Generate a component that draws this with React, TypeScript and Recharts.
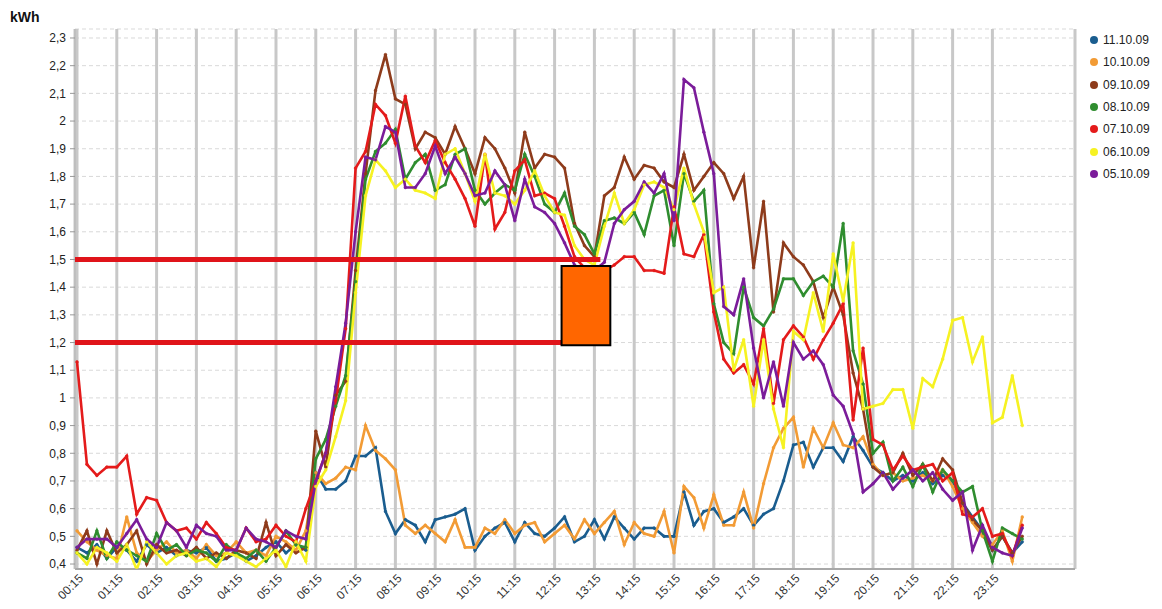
import {
  LineChart,
  Line,
  XAxis,
  YAxis,
  CartesianGrid,
  ReferenceLine,
  ReferenceArea,
} from "recharts";

// quarter-hour slots 00:15 .. 00:00 (next day)
const TIMES: string[] = Array.from({ length: 96 }, (_, k) => {
  const m = (k + 1) * 15;
  const h = Math.floor(m / 60) % 24;
  return `${String(h).padStart(2, "0")}:${String(m % 60).padStart(2, "0")}`;
});
const X_TICKS = TIMES.map((_, k) => k).filter((k) => k % 4 === 0);
const Y_TICKS = [0.4, 0.5, 0.6, 0.7, 0.8, 0.9, 1, 1.1, 1.2, 1.3, 1.4, 1.5, 1.6, 1.7, 1.8, 1.9, 2, 2.1, 2.2, 2.3];

// kWh per quarter hour
const D_11_10 = [
  0.46, 0.44, 0.47, 0.42, 0.46, 0.45, 0.41, 0.47, 0.44, 0.46, 0.43, 0.45, 0.44, 0.46, 0.41, 0.42, 0.44, 0.41, 0.43, 0.46, 0.48, 0.44, 0.47, 0.45,
  0.73, 0.67, 0.67, 0.7, 0.79, 0.79, 0.82, 0.59, 0.51, 0.56, 0.54, 0.48, 0.56, 0.57, 0.58, 0.6, 0.45, 0.5, 0.53, 0.55, 0.48, 0.55,
  0.51, 0.5, 0.53, 0.57, 0.48, 0.5, 0.56, 0.49, 0.57, 0.53, 0.49, 0.53, 0.53, 0.5, 0.5, 0.66, 0.54, 0.59, 0.6, 0.55,
  0.57, 0.6, 0.54, 0.58, 0.6, 0.7, 0.83, 0.84, 0.75, 0.82, 0.82, 0.77, 0.86, 0.81,
  0.75, 0.73, 0.7, 0.72, 0.7, 0.73, 0.69, 0.72, 0.7, 0.62, 0.57, 0.52, 0.45, 0.5, 0.44, 0.48,
];
const D_10_10 = [
  0.52, 0.48, 0.45, 0.43, 0.42, 0.57, 0.44, 0.41, 0.45, 0.48, 0.44, 0.45, 0.42, 0.47, 0.43, 0.44, 0.48, 0.44, 0.45, 0.43, 0.5, 0.48, 0.45, 0.52,
  0.73, 0.69, 0.71, 0.75, 0.74, 0.9, 0.81, 0.78, 0.74, 0.54, 0.51, 0.54, 0.51, 0.48, 0.56, 0.46, 0.46, 0.53, 0.51, 0.56, 0.51, 0.54,
  0.55, 0.48, 0.51, 0.54, 0.49, 0.56, 0.51, 0.55, 0.59, 0.47, 0.55, 0.51, 0.5, 0.59, 0.44, 0.68, 0.64, 0.53, 0.65, 0.54,
  0.54, 0.66, 0.53, 0.69, 0.82, 0.89, 0.93, 0.75, 0.89, 0.82, 0.91, 0.83, 0.82, 0.86,
  0.76, 0.72, 0.73, 0.7, 0.71, 0.72, 0.7, 0.74, 0.68, 0.6, 0.55, 0.5, 0.47, 0.52, 0.41, 0.57,
];
const D_09_10 = [
  0.45, 0.52, 0.4, 0.52, 0.44, 0.47, 0.52, 0.4, 0.47, 0.44, 0.45, 0.43, 0.46, 0.42, 0.44, 0.42, 0.45, 0.44, 0.42, 0.55, 0.43, 0.47, 0.44, 0.46,
  0.88, 0.75, 1.01, 1.06, 1.46, 1.81, 2.11, 2.24, 2.08, 2.06,
  1.9, 1.96, 1.94, 1.88, 1.98, 1.9, 1.81, 1.94, 1.9, 1.83, 1.74, 1.96, 1.83, 1.88, 1.87, 1.83, 1.63, 1.55, 1.51,
  1.73, 1.76, 1.87, 1.79, 1.84, 1.83, 1.78, 1.76, 1.88, 1.75, 1.8, 1.85, 1.81, 1.72, 1.8, 1.47, 1.71,
  1.31, 1.56, 1.51, 1.48, 1.42, 1.29, 1.4, 1.3, 1.09, 0.96, 0.75, 0.72,
  0.73, 0.8, 0.72, 0.76, 0.7, 0.78, 0.74, 0.62, 0.56, 0.52, 0.45, 0.5, 0.44, 0.5,
];
const D_08_10 = [
  0.44, 0.42, 0.52, 0.42, 0.48, 0.45, 0.43, 0.41, 0.51, 0.45, 0.47, 0.43, 0.45, 0.44, 0.41, 0.47, 0.44, 0.42, 0.45, 0.41, 0.46, 0.52, 0.47, 0.46,
  0.78, 0.85, 0.97, 1.08, 1.42, 1.79, 1.89, 1.92, 1.97, 1.79,
  1.85, 1.88, 1.75, 1.77, 1.88, 1.9, 1.75, 1.7, 1.74, 1.77, 1.75, 1.88, 1.8, 1.7, 1.67, 1.74, 1.62, 1.59,
  1.52,
  1.64, 1.65, 1.63, 1.67, 1.59, 1.73, 1.75, 1.55, 1.81, 1.71, 1.75, 1.34, 1.2, 1.16, 1.4, 1.29, 1.26,
  1.32, 1.43, 1.43, 1.37, 1.42, 1.44, 1.4, 1.63, 1.17, 1.05, 0.8, 0.84, 0.7, 0.75, 0.68,
  0.76, 0.66, 0.74, 0.7, 0.66, 0.68, 0.52, 0.41, 0.53, 0.51, 0.49,
];
const D_07_10 = [
  1.13, 0.76, 0.72, 0.75, 0.75, 0.79, 0.58, 0.64, 0.63, 0.55, 0.52, 0.53, 0.49, 0.55, 0.51, 0.46, 0.45, 0.53, 0.48, 0.49, 0.54, 0.5, 0.48, 0.6,
  0.7, 0.8, 0.99, 1.25, 1.83, 1.89, 2.06, 2.02, 1.92, 2.09,
  1.91, 1.85, 1.93, 1.85, 1.79, 1.72, 1.62, 1.88, 1.61, 1.67, 1.82, 1.86, 1.73, 1.74, 1.72, 1.62,
  1.51, 1.47, 1.45, 1.46, 1.48, 1.51, 1.51, 1.46, 1.46, 1.45, 1.69, 1.52, 1.51, 1.59, 1.31, 1.14,
  1.09, 1.12, 1.05, 1.25, 0.98, 1.21, 1.26, 1.22, 1.14, 1.21, 1.27, 1.34, 0.92, 1.18, 0.85, 0.83, 0.74, 0.79, 0.74,
  0.75, 0.76, 0.7, 0.73, 0.58, 0.57, 0.6, 0.5, 0.51, 0.43, 0.54,
];
const D_06_10 = [
  0.44, 0.4, 0.46, 0.44, 0.41, 0.47, 0.38, 0.48, 0.44, 0.4, 0.43, 0.44, 0.41, 0.42, 0.39, 0.44, 0.43, 0.41, 0.39, 0.42, 0.45, 0.39, 0.48, 0.41,
  0.68, 0.74, 0.86, 0.99, 1.38, 1.73, 1.86, 1.82, 1.76, 1.79,
  1.75, 1.74, 1.72, 1.88, 1.9, 1.81, 1.71, 1.88, 1.74, 1.73, 1.7, 1.75, 1.82, 1.73, 1.67, 1.66,
  1.55, 1.5, 1.48,
  1.62, 1.74, 1.63, 1.68, 1.77, 1.78, 1.76, 1.68, 1.83, 1.7, 1.6, 1.38, 1.4,
  1.1, 1.21, 0.97, 1.21, 0.96, 0.82, 1.24, 1.21, 1.38, 1.24, 1.52, 1.35, 1.56, 0.96, 0.97, 0.98, 1.03, 1.03,
  0.89, 1.07, 1.04, 1.14, 1.28, 1.29, 1.13, 1.22, 0.91, 0.93, 1.08, 0.9,
];
const D_05_10 = [
  0.46, 0.49, 0.49, 0.49, 0.46, 0.51, 0.56, 0.49, 0.46, 0.55, 0.52, 0.46, 0.54, 0.51, 0.5, 0.45, 0.45, 0.53, 0.49, 0.48, 0.46, 0.52, 0.5, 0.49,
  0.7, 0.8, 1.04, 1.27, 1.6, 1.87, 1.86, 1.98, 1.96, 1.76,
  1.76, 1.81, 1.91, 1.81, 1.87, 1.81, 1.73, 1.74, 1.82, 1.77, 1.64, 1.79, 1.69, 1.67, 1.63, 1.56,
  1.48, 1.45, 1.46,
  1.49, 1.63, 1.68, 1.71, 1.78, 1.74, 1.81, 1.64, 2.15, 2.12, 1.96, 1.81, 1.33, 1.3, 1.43, 1.18,
  1.0, 1.13, 0.97, 1.2, 1.14, 1.17, 1.12, 1.01, 0.97, 0.87, 0.66, 0.69, 0.73, 0.67, 0.71,
  0.74, 0.7, 0.73, 0.67, 0.63, 0.66, 0.45, 0.54, 0.46, 0.44, 0.43, 0.53,
];

const SERIES = [
  { key: "d1110", name: "11.10.09", color: "#1a5d8f", values: D_11_10 },
  { key: "d1010", name: "10.10.09", color: "#f29b35", values: D_10_10 },
  { key: "d0910", name: "09.10.09", color: "#8e3b1b", values: D_09_10 },
  { key: "d0810", name: "08.10.09", color: "#2f8d2f", values: D_08_10 },
  { key: "d0710", name: "07.10.09", color: "#e41b1b", values: D_07_10 },
  { key: "d0610", name: "06.10.09", color: "#f6f222", values: D_06_10 },
  { key: "d0510", name: "05.10.09", color: "#7b1c9a", values: D_05_10 },
];

// threshold marks drawn on top of the chart
const LEVEL_HIGH = 1.5;
const LEVEL_LOW = 1.2;
const HIGH_END = 52.6;
const LOW_END = 48.7;
const BOX = { x1: 48.7, x2: 53.6, y1: 1.19, y2: 1.476 };

const data = TIMES.map((t, i) => {
  const row: Record<string, number | string> = { i, t };
  SERIES.forEach((s) => {
    row[s.key] = s.values[i];
  });
  return row;
});

const FONT = "'Liberation Sans', Arial, sans-serif";

function TimeTick({ x, y, payload }: any) {
  const ax = x + 7;
  const ay = y + 8;
  return (
    <text
      x={ax}
      y={ay}
      textAnchor="end"
      transform={`rotate(-45 ${ax} ${ay})`}
      fontSize={12}
      fill="#333"
      fontFamily={FONT}
    >
      {TIMES[payload.value]}
    </text>
  );
}

export default function App() {
  return (
    <div
      style={{
        position: "absolute",
        left: 0,
        top: 0,
        width: 1162,
        height: 609,
        background: "#fff",
        fontFamily: FONT,
      }}
    >
      <div style={{ position: "absolute", left: 10, top: 9, fontSize: 14, fontWeight: "bold", color: "#111" }}>
        kWh
      </div>
      <LineChart
        width={1162}
        height={609}
        data={data}
        margin={{ top: 29, right: 87, left: 10, bottom: 0 }}
      >
        <CartesianGrid horizontal vertical={false} stroke="#d9d9d9" strokeDasharray="4 3" />
        <CartesianGrid horizontal={false} vertical stroke="#c8c8c8" strokeWidth={3} />
        <XAxis
          dataKey="i"
          type="number"
          domain={[-0.2, 100.3]}
          ticks={X_TICKS}
          interval={0}
          height={40}
          tickSize={0}
          tickLine={false}
          tick={<TimeTick />}
          axisLine={{ stroke: "#a8a8a8", strokeWidth: 2 }}
          allowDataOverflow
        />
        <XAxis
          xAxisId="top"
          orientation="top"
          dataKey="i"
          type="number"
          domain={[-0.2, 100.3]}
          height={0}
          tick={false}
          tickLine={false}
          axisLine={{ stroke: "#cfcfcf" }}
        />
        <YAxis
          domain={[0.382, 2.3325]}
          ticks={Y_TICKS}
          interval={0}
          width={65}
          tickSize={5}
          tickMargin={4}
          tick={{ fontSize: 12, fill: "#222", fontFamily: FONT }}
          tickLine={{ stroke: "#999" }}
          axisLine={{ stroke: "#b5b5b5" }}
          tickFormatter={(v: number) => String(v).replace(".", ",")}
          allowDataOverflow
        />
        <YAxis
          yAxisId="right"
          orientation="right"
          domain={[0.382, 2.3325]}
          width={0}
          tick={false}
          tickLine={false}
          axisLine={{ stroke: "#cfcfcf" }}
        />
        {SERIES.map((s) => (
          <Line
            key={s.key}
            dataKey={s.key}
            name={s.name}
            stroke={s.color}
            strokeWidth={2.6}
            dot={{ r: 1.4, fill: s.color, stroke: s.color, strokeWidth: 0.5 }}
            activeDot={false}
            isAnimationActive={false}
          />
        ))}
        <ReferenceLine
          segment={[
            { x: -0.2, y: LEVEL_HIGH },
            { x: HIGH_END, y: LEVEL_HIGH },
          ]}
          stroke="#e0141a"
          strokeWidth={5}
          zIndex={1500}
        />
        <ReferenceLine
          segment={[
            { x: -0.2, y: LEVEL_LOW },
            { x: LOW_END, y: LEVEL_LOW },
          ]}
          stroke="#e0141a"
          strokeWidth={5}
          zIndex={1500}
        />
        <ReferenceArea
          x1={BOX.x1}
          x2={BOX.x2}
          y1={BOX.y1}
          y2={BOX.y2}
          fill="#ff6600"
          fillOpacity={1}
          stroke="#000"
          strokeWidth={2}
          zIndex={1600}
        />
      </LineChart>
      <div style={{ position: "absolute", left: 1090, top: 29 }}>
        {SERIES.map((s) => (
          <div key={s.key} style={{ display: "flex", alignItems: "center", height: 22.3, fontSize: 12, color: "#222" }}>
            <span
              style={{
                width: 8,
                height: 8,
                borderRadius: 4,
                background: s.color,
                marginRight: 5,
              }}
            />
            {s.name}
          </div>
        ))}
      </div>
    </div>
  );
}
